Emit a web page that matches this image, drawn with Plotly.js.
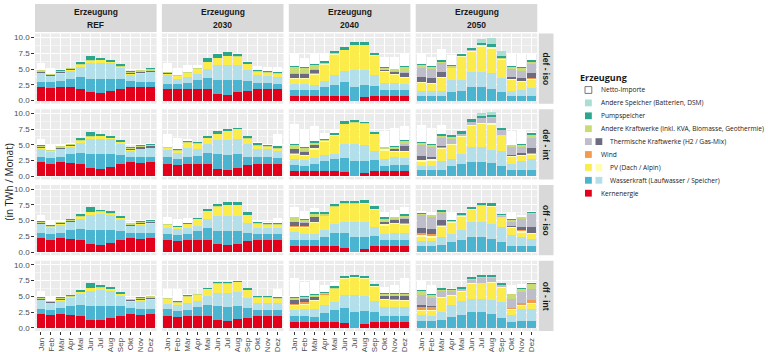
<!DOCTYPE html>
<html><head><meta charset="utf-8">
<script src="https://cdn.plot.ly/plotly-3.0.1.min.js"></script>
<style>html,body{margin:0;padding:0;background:#fff}#chart{width:768px;height:352px}</style>
</head><body><div id="chart"></div>
<script>
// ---------- categories / labels ----------
const months = ["Jan","Feb","Mär","Apr","Mai","Jun","Jul","Aug","Sep","Okt","Nov","Dez"];
const columnLabels = ["REF","2030","2040","2050"];
const rowLabels = ["def - iso","def - int","off - iso","off - int"];
const seriesKeys = ["kern","lauf","speich","pvd","pva","wind","thd","thl","akw","psp","asp","imp"];
const legendLabels = ["Netto-Importe","Andere Speicher (Batterien, DSM)","Pumpspeicher",
  "Andere Kraftwerke (inkl. KVA, Biomasse, Geothermie)","Thermische Kraftwerke (H2 / Gas-Mix)",
  "Wind","PV (Dach / Alpin)","Wasserkraft (Laufwasser / Speicher)","Kernenergie"];

// ---------- data (TWh / Monat) ----------
const REF = {
  kern:  [2.2,2.0,2.2,2.1,1.9,1.3,1.2,1.5,1.9,2.2,2.1,2.2],
  lauf:  [0.8,0.9,0.9,1.4,1.8,2.2,2.3,2.0,1.5,0.9,0.9,0.8],
  speich:[1.4,1.0,1.2,1.2,1.6,2.4,2.5,2.4,1.7,1.0,1.3,1.5],
  pvd:   [0.05,0.05,0.1,0.15,0.35,0.4,0.4,0.2,0.3,0.1,0.1,0.05],
  thd:   [0.15,0.1,0.15,0.1,0,0,0,0,0,0.15,0.2,0.2],
  akw:   [0.2,0.15,0.2,0.15,0.1,0.1,0.05,0.05,0.05,0.2,0.2,0.25],
  psp:   [0.1,0.05,0.1,0.1,0.3,0.7,0.3,0.3,0.3,0.1,0.1,0.1],
  imp:   [1.0,0.85,0.1,0.05,0,0,0,0,0,0.05,0.15,0.15]
};
const y2030_defIso = {
  kern:  [1.9,1.8,1.9,1.9,1.9,1.1,0.9,1.3,1.6,1.9,1.9,1.9],
  lauf:  [0.8,0.8,0.9,1.3,1.7,2.2,2.4,2.0,1.5,0.9,0.9,0.8],
  speich:[1.3,0.9,1.0,1.1,1.4,2.3,2.3,2.3,1.7,1.2,1.1,1.1],
  pvd:   [0.3,0.35,0.55,0.7,1.1,1.1,1.5,1.4,1.0,0.55,0.45,0.4],
  thd:   [0.05,0.05,0.05,0,0,0,0,0,0,0.05,0.05,0.05],
  akw:   [0.15,0.1,0.1,0.1,0.1,0.05,0.05,0.05,0.05,0.1,0.15,0.15],
  psp:   [0.1,0.1,0.1,0.15,0.6,0.6,0.5,0.35,0.35,0.15,0.1,0.1],
  imp:   [1.3,1.1,1.05,0.4,0,0,0,0,0,0.6,0.7,0.8]
};
const y2030_defInt = {
  kern:  [1.9,1.75,1.9,1.9,1.9,1.2,1.05,1.4,1.75,2.0,2.0,1.9],
  lauf:  [1.1,0.95,1.1,1.4,1.75,2.3,2.35,2.1,1.35,1.0,1.0,0.95],
  speich:[1.2,1.05,1.5,1.1,1.55,2.3,2.4,2.4,2.0,1.3,1.3,1.15],
  pvd:   [0.3,0.25,0.8,0.8,0.9,0.9,1.4,1.6,0.9,0.5,0.4,0.4],
  akw:   [0.1,0.15,0.1,0.1,0.05,0.05,0.05,0.05,0.05,0.15,0.1,0.15],
  psp:   [0.1,0.15,0.2,0.2,0.3,0.45,0.3,0.2,0.3,0.3,0.15,0.2],
  imp:   [2.05,1.8,0.3,0,0,0,0,0,0,0.25,0.25,1.9]
};
const y2030_offIso = {
  kern:  [2.0,1.8,2.0,2.0,2.0,1.25,1.1,1.35,1.8,2.0,2.0,2.0],
  lauf:  [0.8,0.9,0.8,1.3,1.75,2.15,2.2,1.95,1.3,0.8,0.8,0.8],
  speich:[1.05,0.9,1.05,0.9,1.45,2.3,2.4,2.4,1.5,1.05,1.05,1.05],
  pvd:   [0.45,0.4,0.55,1.0,1.3,1.5,1.8,1.8,1.3,0.55,0.45,0.45],
  akw:   [0.1,0.05,0.1,0.1,0.05,0.05,0.05,0.05,0.05,0.2,0.15,0.15],
  psp:   [0.1,0.05,0.1,0.1,0.25,0.35,0.45,0.35,0.4,0.2,0.15,0.15],
  imp:   [1.0,1.1,0.8,0,0,0,0,0,0,0.1,0.1,0.8]
};
const y2030_offInt = {
  kern:  [1.9,1.8,1.9,1.9,1.9,1.2,1.05,1.35,1.6,1.9,1.9,1.9],
  lauf:  [1.1,0.9,1.0,1.4,1.8,2.2,2.3,2.05,1.5,1.0,1.0,1.0],
  speich:[0.85,0.9,1.0,1.0,1.3,2.2,2.25,2.3,1.7,1.1,1.1,1.1],
  pvd:   [0.75,0.4,1.0,0.9,1.1,1.4,1.4,1.5,1.2,0.8,0.7,0.6],
  akw:   [0.1,0.15,0.15,0.1,0.05,0.05,0.05,0.05,0.05,0.15,0.15,0.15],
  psp:   [0.1,0.15,0.15,0.1,0.25,0.15,0.15,0.15,0.25,0.15,0.15,0.15],
  imp:   [1.4,1.8,0.1,0,0,0,0,0,0,0,0,1.3]
};
const y2040_defIso = {
  kern:  [0.75,0.75,0.8,0.8,0.75,0.75,0,0.55,0.75,0.75,0.75,0.75],
  lauf:  [0.95,0.95,0.9,1.35,1.75,2.2,2.15,1.85,1.5,0.95,0.95,0.95],
  speich:[1.0,1.0,0.7,0.95,1.5,1.75,2.65,2.45,1.75,1.1,1.1,1.0],
  pvd:   [0.65,0.7,1.7,2.5,3.3,3.3,4.0,3.9,3.15,1.75,1.2,0.85],
  pva:   [0.2,0.2,0.2,0.15,0.1,0.05,0.05,0.05,0.05,0.15,0.2,0.2],
  wind:  [0.05,0.05,0.05,0.05,0,0,0,0,0,0.05,0.05,0.05],
  thd:   [0.7,0.65,0.55,0,0,0,0,0,0,0.1,0.3,0.65],
  thl:   [0.1,0.1,0.1,0,0,0,0,0,0,0.05,0.1,0.1],
  akw:   [0.9,0.8,0.6,0.2,0.1,0.05,0.05,0.05,0.05,0.3,0.3,0.85],
  psp:   [0.15,0.1,0.2,0.25,0.35,0.4,0.35,0.4,0.3,0.15,0.1,0.15],
  imp:   [1.95,1.5,1.6,1.35,0,0,0,0,0,1.55,1.85,1.85]
};
const y2040_defInt = {
  kern:  [0.8,0.8,0.8,0.8,0.8,0.65,0,0.55,0.8,0.8,0.8,0.8],
  lauf:  [1.0,0.9,1.1,1.6,2.0,2.3,2.4,1.85,1.8,0.9,1.0,1.0],
  speich:[0.9,0.85,0.95,1.0,0.8,2.25,2.7,2.55,1.5,1.0,1.25,1.15],
  pvd:   [0.7,0.65,1.4,2.1,2.8,3.05,3.35,3.35,2.6,1.4,0.75,0.85],
  pva:   [0.2,0.2,0.2,0.1,0.1,0.05,0.05,0.05,0.05,0.2,0.2,0.2],
  wind:  [0.05,0.05,0.05,0,0,0,0,0,0,0.05,0.05,0.05],
  thd:   [0.65,0.45,0.45,0,0,0,0,0,0,0,0.25,0.75],
  thl:   [0.1,0.05,0.05,0,0,0,0,0,0,0.05,0.05,0.4],
  akw:   [0.55,0.55,0.35,0.1,0.05,0.05,0.05,0.05,0.05,0.2,0.3,0.45],
  psp:   [0.15,0.1,0.2,0.25,0.4,0.4,0.35,0.3,0.3,0.05,0.15,0.15],
  imp:   [3.25,2.7,2.45,1.0,0.5,0,0,0,0,2.55,2.8,2.15]
};
const y2040_offIso = {
  kern:  [0.9,0.9,0.9,0.9,0.9,0.7,0,0.55,0.9,0.9,0.9,0.9],
  lauf:  [0.95,1.0,1.1,1.5,2.1,2.3,2.4,1.85,1.6,1.0,1.0,1.0],
  speich:[1.35,1.0,0.9,1.15,1.5,1.75,2.35,2.35,1.55,1.0,1.1,1.1],
  pvd:   [0.65,0.9,1.65,2.15,2.6,2.9,2.9,2.95,2.7,1.3,1.4,1.3],
  pva:   [0.2,0.2,0.2,0.1,0.1,0.05,0.05,0.05,0.05,0.2,0.2,0.2],
  wind:  [0.1,0.1,0.05,0,0,0,0,0,0,0.05,0.05,0.05],
  thd:   [0.6,0.5,0.7,0,0,0,0,0,0,0.3,0.45,0.7],
  thl:   [0.1,0.1,0.1,0,0,0,0,0,0,0.1,0.1,0.1],
  akw:   [0.65,0.4,0.45,0.25,0.05,0.05,0.05,0.05,0.05,0.45,0.35,0.4],
  psp:   [0.15,0.1,0.25,0.35,0.4,0.4,0.4,0.4,0.4,0.2,0.1,0.25],
  imp:   [1.45,1.4,0.7,0,0,0,0,0,0,0.8,1.0,1.2]
};
const y2040_offInt = {
  kern:  [1.0,1.0,1.0,1.0,1.0,0.8,0,0.6,1.0,1.0,1.0,1.0],
  lauf:  [0.9,0.9,0.8,1.3,1.8,2.4,2.55,2.05,1.55,0.9,0.9,0.9],
  speich:[0.9,1.1,1.25,1.3,1.3,1.95,2.6,2.4,1.65,1.45,1.45,1.45],
  pvd:   [0.6,0.65,1.15,1.55,2.0,2.65,2.8,2.75,2.35,1.05,0.95,0.85],
  pva:   [0.2,0.2,0.2,0.1,0.1,0.05,0.05,0.05,0.05,0.2,0.2,0.2],
  wind:  [0.25,0.25,0.1,0.05,0,0,0,0,0,0.05,0.1,0.1],
  thd:   [0.55,0.55,0.4,0,0,0,0,0,0,0.4,0.45,0.6],
  thl:   [0.05,0.05,0.05,0,0,0,0,0,0,0.05,0.05,0.05],
  akw:   [0.3,0.25,0.3,0.2,0.05,0.05,0.05,0.05,0.05,0.3,0.3,0.3],
  psp:   [0.1,0.1,0.2,0.25,0.35,0.4,0.35,0.35,0.3,0.1,0.1,0.1],
  imp:   [3.0,2.2,2.2,1.05,0.75,0,0,0,0,0.95,1.3,2.3]
};
const y2050_defIso = {
  lauf:  [0.8,0.8,0.8,1.35,1.6,2.15,2.15,1.9,1.35,0.75,0.75,0.8],
  speich:[0.8,0.8,0.8,1.85,1.6,2.4,2.4,2.5,2.3,0.85,0.9,1.2],
  pvd:   [1.15,1.0,1.95,1.9,3.7,3.2,4.0,3.85,2.85,1.6,1.25,1.3],
  pva:   [0.2,0.2,0.2,0.15,0.2,0.2,0.25,0.25,0.15,0.2,0.2,0.2],
  wind:  [0.05,0.05,0.05,0,0,0,0,0,0,0.05,0.05,0.05],
  thd:   [0.75,0.75,0.8,0,0,0,0,0,0,0.3,0.45,0.85],
  thl:   [1.45,1.35,1.3,0,0,0.05,0,0,0,1.2,1.15,1.35],
  akw:   [0.5,0.45,0.25,0.2,0.05,0.05,0.05,0.05,0.05,0.35,0.4,0.45],
  psp:   [0.1,0.1,0.3,0.15,0.2,0.3,0.35,0.4,0.35,0.2,0.15,0.25],
  asp:   [0,0,0,0,0,0.05,0.6,1.0,0.8,0,0,0],
  imp:   [1.7,1.5,1.75,1.65,0,0,0,0,0,1.9,2.2,1.15]
};
const y2050_defInt = {
  lauf:  [0.95,0.95,0.95,1.65,1.9,2.3,2.3,2.15,1.6,0.95,0.95,0.95],
  speich:[0.7,0.7,1.5,1.05,1.6,2.35,2.35,2.05,2.5,0.95,1.5,1.75],
  pvd:   [0.7,0.85,1.9,2.3,2.75,3.35,3.6,4.0,2.4,1.1,0.75,0.7],
  pva:   [0.2,0.2,0.2,0.1,0.1,0.2,0.2,0.2,0.1,0.2,0.2,0.2],
  wind:  [0.05,0.05,0.05,0,0,0,0,0,0,0.05,0.05,0.05],
  thd:   [0.6,0.35,0.2,0,0,0,0,0,0,0.1,0.2,0.9],
  thl:   [1.75,1.6,1.35,0.85,0.4,0.4,0.75,0.9,0.7,1.25,1.0,1.55],
  akw:   [0.35,0.35,0.3,0.25,0.05,0.1,0.05,0.05,0.05,0.3,0.4,0.4],
  psp:   [0.1,0.1,0.3,0.3,0.35,0.4,0.35,0.4,0.3,0.1,0.1,0.35],
  asp:   [0,0,0,0,0,0.05,0.4,0.4,0,0,0,0],
  imp:   [2.7,2.55,1.45,0.1,0,0,0,0,0,2.15,2.25,0.2]
};
const y2050_offIso = {
  lauf:  [0.95,0.95,1.1,1.6,1.9,2.4,2.4,2.15,1.6,0.95,0.95,0.95],
  speich:[0.8,0.8,1.3,1.3,1.55,2.35,2.35,2.35,2.45,1.7,1.45,1.2],
  pvd:   [0.7,0.55,1.6,1.65,2.2,1.95,2.5,2.7,1.45,1.1,0.7,0.65],
  pva:   [0.2,0.2,0.2,0.2,0.1,0.1,0.1,0.1,0.1,0.2,0.2,0.2],
  wind:  [0.35,0.4,0.05,0.05,0,0,0,0,0,0.05,0.15,0.1],
  thd:   [0.8,0.8,0.8,0,0,0,0,0,0,0.2,0.5,0.85],
  thl:   [2.1,1.9,1.1,0,0,0,0,0,0.2,0.6,1.3,2.05],
  akw:   [0.2,0.3,0.25,0.15,0.15,0.1,0.05,0.05,0.05,0.35,0.25,0.2],
  psp:   [0.05,0.05,0.25,0.15,0.3,0.2,0.45,0.5,0.2,0.1,0.05,0.1],
  imp:   [0.35,0.35,0,1.2,0,0,0,0,0,1.05,0.35,0.25]
};
const y2050_offInt = {
  lauf:  [1.1,1.1,1.3,1.75,2.0,2.45,2.45,2.15,1.6,1.0,1.1,1.1],
  speich:[0.9,0.8,1.2,1.85,2.2,2.2,2.2,2.25,2.5,1.0,1.85,1.95],
  pvd:   [0.6,0.7,2.2,1.45,1.5,2.35,2.4,2.7,2.25,0.85,0.55,0.75],
  pva:   [0.2,0.2,0.2,0.1,0.1,0.1,0.1,0.1,0.1,0.2,0.2,0.2],
  wind:  [0.55,0.5,0.05,0.05,0,0,0,0,0,0.1,0.3,0.35],
  thd:   [0.2,0.1,0,0,0,0,0,0,0,0,0,0],
  thl:   [1.7,1.35,0.85,0.7,0.3,0.5,0.8,0.75,0.3,1.45,1.7,1.85],
  akw:   [0.65,0.45,0.25,0.1,0.1,0.1,0.1,0.1,0.1,0.75,0.5,0.7],
  psp:   [0.15,0.1,0.25,0.2,0.3,0.3,0.4,0.4,0.2,0.05,0.1,0.15],
  imp:   [1.45,1.5,0,0,0,0,0,0,0,1.4,0.7,0.15]
};
const panelGrid = [
  [REF, y2030_defIso, y2040_defIso, y2050_defIso],
  [REF, y2030_defInt, y2040_defInt, y2050_defInt],
  [REF, y2030_offIso, y2040_offIso, y2050_offIso],
  [REF, y2030_offInt, y2040_offInt, y2050_offInt]
];

// ---------- styles ----------
const seriesColors = {
  kern:"#E2001A", lauf:"#4AB4D1", speich:"#B3DFEA", pvd:"#FBEB4B", pva:"#FFFDB0",
  wind:"#F29B4C", thd:"#6C6B80", thl:"#BEBDCA", akw:"#C9DB74", psp:"#2CA58D",
  asp:"#A9DED3", imp:"#FFFFFF"
};
const W = 768, H = 352;
const colX = [[35,156.6],[161.9,283.5],[288.8,410.4],[415.7,537.3]];
const rowY = [[33.5,103.75],[109.25,179.5],[185,255.25],[260.75,331]];
const px = v => v / W;
const py = v => 1 - v / H;
const axisFont = {family:"Liberation Sans, Arial, sans-serif", size:8, color:"#4D4D4D"};

const traces = [];
const layout = {
  width: W, height: H, margin: {l:0, r:0, t:0, b:0},
  paper_bgcolor: "#FFFFFF", plot_bgcolor: "#EBEBEB",
  barmode: "stack", bargap: 0.1, showlegend: false,
  font: {family:"Liberation Sans, Arial, sans-serif"},
  shapes: [], annotations: []
};

panelGrid.forEach((row, r) => row.forEach((p, c) => {
  const n = r * 4 + c + 1;
  const sfx = n === 1 ? "" : String(n);
  seriesKeys.forEach(k => {
    if (!p[k]) return;
    traces.push({
      type: "bar", x: months, y: p[k], name: k,
      xaxis: "x" + sfx, yaxis: "y" + sfx,
      marker: {color: seriesColors[k], line: {width: 0}},
      showlegend: false, hoverinfo: "skip"
    });
  });
  layout["xaxis" + sfx] = {
    domain: [px(colX[c][0]), px(colX[c][1])], anchor: "y" + sfx,
    type: "category", categoryorder: "array", categoryarray: months,
    tickmode: "array", tickvals: months, ticktext: months,
    range: [-0.6, 11.6], showgrid: true, gridcolor: "#FFFFFF", gridwidth: 1,
    zeroline: false, showline: false,
    ticks: r === 3 ? "outside" : "", ticklen: 2.7, tickwidth: 1, tickcolor: "#333333",
    showticklabels: r === 3, tickangle: -90, tickfont: axisFont, fixedrange: true
  };
  layout["yaxis" + sfx] = {
    domain: [py(rowY[r][1]), py(rowY[r][0])], anchor: "x" + sfx,
    range: [-0.5, 10.65], tickmode: "array",
    tickvals: [0, 2.5, 5, 7.5, 10], ticktext: ["0.0","2.5","5.0","7.5","10.0"],
    showgrid: true, gridcolor: "#FFFFFF", gridwidth: 1,
    minor: {tickvals: [1.25, 3.75, 6.25, 8.75], showgrid: true, gridcolor: "#FFFFFF", gridwidth: 0.5, ticks: ""},
    zeroline: false, showline: false,
    ticks: c === 0 ? "outside" : "", ticklen: 2.7, tickwidth: 1, tickcolor: "#333333",
    showticklabels: c === 0, tickfont: axisFont, fixedrange: true
  };
}));

// facet strips (top)
columnLabels.forEach((lab, c) => {
  layout.shapes.push({type:"rect", xref:"paper", yref:"paper",
    x0: px(colX[c][0]), x1: px(colX[c][1]), y0: py(32), y1: py(4),
    fillcolor: "#D9D9D9", line: {width: 0}, layer: "below"});
  const xm = px((colX[c][0] + colX[c][1]) / 2);
  layout.annotations.push({xref:"paper", yref:"paper", x: xm, y: py(11.8), text: "<b>Erzeugung</b>",
    showarrow: false, xanchor: "center", yanchor: "middle",
    font: {family:"Liberation Sans, Arial, sans-serif", size: 8.5, color: "#1A1A1A"}});
  layout.annotations.push({xref:"paper", yref:"paper", x: xm, y: py(25), text: "<b>" + lab + "</b>",
    showarrow: false, xanchor: "center", yanchor: "middle",
    font: {family:"Liberation Sans, Arial, sans-serif", size: 8.5, color: "#1A1A1A"}});
});
// facet strips (right)
rowLabels.forEach((lab, r) => {
  layout.shapes.push({type:"rect", xref:"paper", yref:"paper",
    x0: px(538.8), x1: px(553.5), y0: py(rowY[r][1]), y1: py(rowY[r][0]),
    fillcolor: "#D9D9D9", line: {width: 0}, layer: "below"});
  layout.annotations.push({xref:"paper", yref:"paper", x: px(546.1), y: py((rowY[r][0] + rowY[r][1]) / 2),
    text: "<b>" + lab + "</b>", textangle: 90, showarrow: false, xanchor: "center", yanchor: "middle",
    font: {family:"Liberation Sans, Arial, sans-serif", size: 8.5, color: "#1A1A1A"}});
});
// y-axis title
layout.annotations.push({xref:"paper", yref:"paper", x: px(8.5), y: py(182), text: "(in TWh / Monat)",
  textangle: -90, showarrow: false, xanchor: "center", yanchor: "middle",
  font: {family:"Open Sans, sans-serif", size: 10, color: "#1A1A1A"}});

// legend (drawn manually: some entries show two colour keys)
const legendKeys = [["imp"],["asp"],["psp"],["akw"],["thl","thd"],["wind"],["pvd","pva"],["lauf","speich"],["kern"]];
const legFont = {family:"Open Sans, sans-serif", size: 6.6, color: "#1A1A1A"};
layout.annotations.push({xref:"paper", yref:"paper", x: px(577.5), y: py(77), text: "<b>Erzeugung</b>",
  showarrow: false, xanchor: "left", yanchor: "middle",
  font: {family:"Open Sans, sans-serif", size: 9, color: "#1A1A1A"}});
legendKeys.forEach((keys, i) => {
  const yc = 90 + i * 12.9;
  keys.forEach((k, j) => {
    const x0 = 585 + j * 10.5;
    layout.shapes.push({type:"rect", xref:"paper", yref:"paper",
      x0: px(x0), x1: px(x0 + 6.8), y0: py(yc + 3.4), y1: py(yc - 3.4),
      fillcolor: seriesColors[k], line: k === "imp" ? {color:"#555555", width: 0.8} : {width: 0}});
  });
  layout.annotations.push({xref:"paper", yref:"paper", x: px(keys.length === 2 ? 607.5 : 598.5), y: py(yc),
    text: legendLabels[i], showarrow: false, xanchor: "left", yanchor: "middle", font: legFont});
});

Plotly.newPlot("chart", traces, layout, {staticPlot: true, displayModeBar: false});
</script>
</body></html>
